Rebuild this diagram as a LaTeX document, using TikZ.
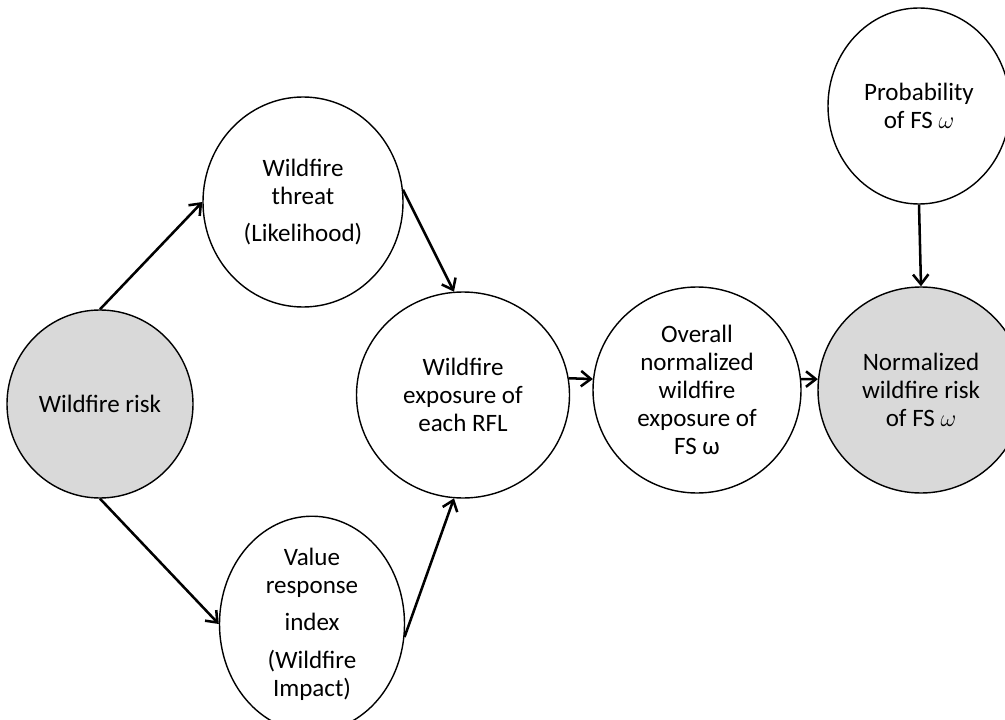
\documentclass[tikz,border=0pt]{standalone}
\usepackage{fontspec}
\setmainfont{Carlito}
\usepackage{xcolor}
\usetikzlibrary{shapes.geometric}
\usetikzlibrary{arrows.meta}

\definecolor{riskgray}{RGB}{217,217,217}

\begin{document}
\begin{tikzpicture}[
    bubble/.style={ellipse,draw,line width=1pt,inner sep=0pt,align=center,
      font=\fontsize{17.8}{19.8}\selectfont},
    shaded/.style={fill=riskgray},
    flow/.style={line width=1.8pt,-{Straight Barb[length=7pt,width=11pt]}}
  ]
  \clip (0,0) rectangle (25.125,17.975);
  \path (2.5,7.875)
    node (risk) [bubble,shaded,minimum width=4.65cm,minimum height=4.7cm]
      {Wildfire risk} ++(5.075,5.05)
    node (threat) [bubble,minimum width=5cm,minimum height=5.25cm]
      {Wildfire\\threat\\[6pt](Likelihood)} ++(.225,-10.55)
    node (value) [bubble,minimum width=4.625cm,minimum height=4.7cm]
      {Value\\response\\[7pt]index\\[7pt](Wildfire\\Impact)} ++(3.775,5.725)
    node (expo) [bubble,minimum width=5.325cm,minimum height=5.15cm]
      {Wildfire\\exposure of\\each RFL} ++(5.85,.125)

    node (over) [bubble,minimum width=5.2cm,minimum height=5.15cm]
      {Overall\\normalized\\wildfire\\exposure of\\FS ω} ++(5.6,0)
    node (norm) [bubble,shaded,minimum width=5.15cm,minimum height=5.15cm]
      {Normalized\\wildfire risk\\of FS $\omega$} ++(-.05,7.1)
    node (prob) [bubble,minimum width=4.55cm,minimum height=4.9cm]
      {Probability\\of FS $\omega$}
    ;
  \draw[flow] (node cs:name=risk,anchor=north) -- (node cs:name=threat,anchor=west);
  \draw[flow] (node cs:name=risk,anchor=south) -- (node cs:name=value,anchor=west);
  \draw[flow] (node cs:name=threat,angle=7) -- (node cs:name=expo,angle=95);
  \draw[flow] (node cs:name=value,angle=-8) -- (node cs:name=expo,angle=265);

  \draw[flow] (node cs:name=expo,angle=9) -- (node cs:name=over,angle=174);
  \draw[flow] (node cs:name=over,angle=6) -- (node cs:name=norm,angle=174);
  \draw[flow] (node cs:name=prob,anchor=south) -- (node cs:name=norm,anchor=north);
\end{tikzpicture}
\end{document}
